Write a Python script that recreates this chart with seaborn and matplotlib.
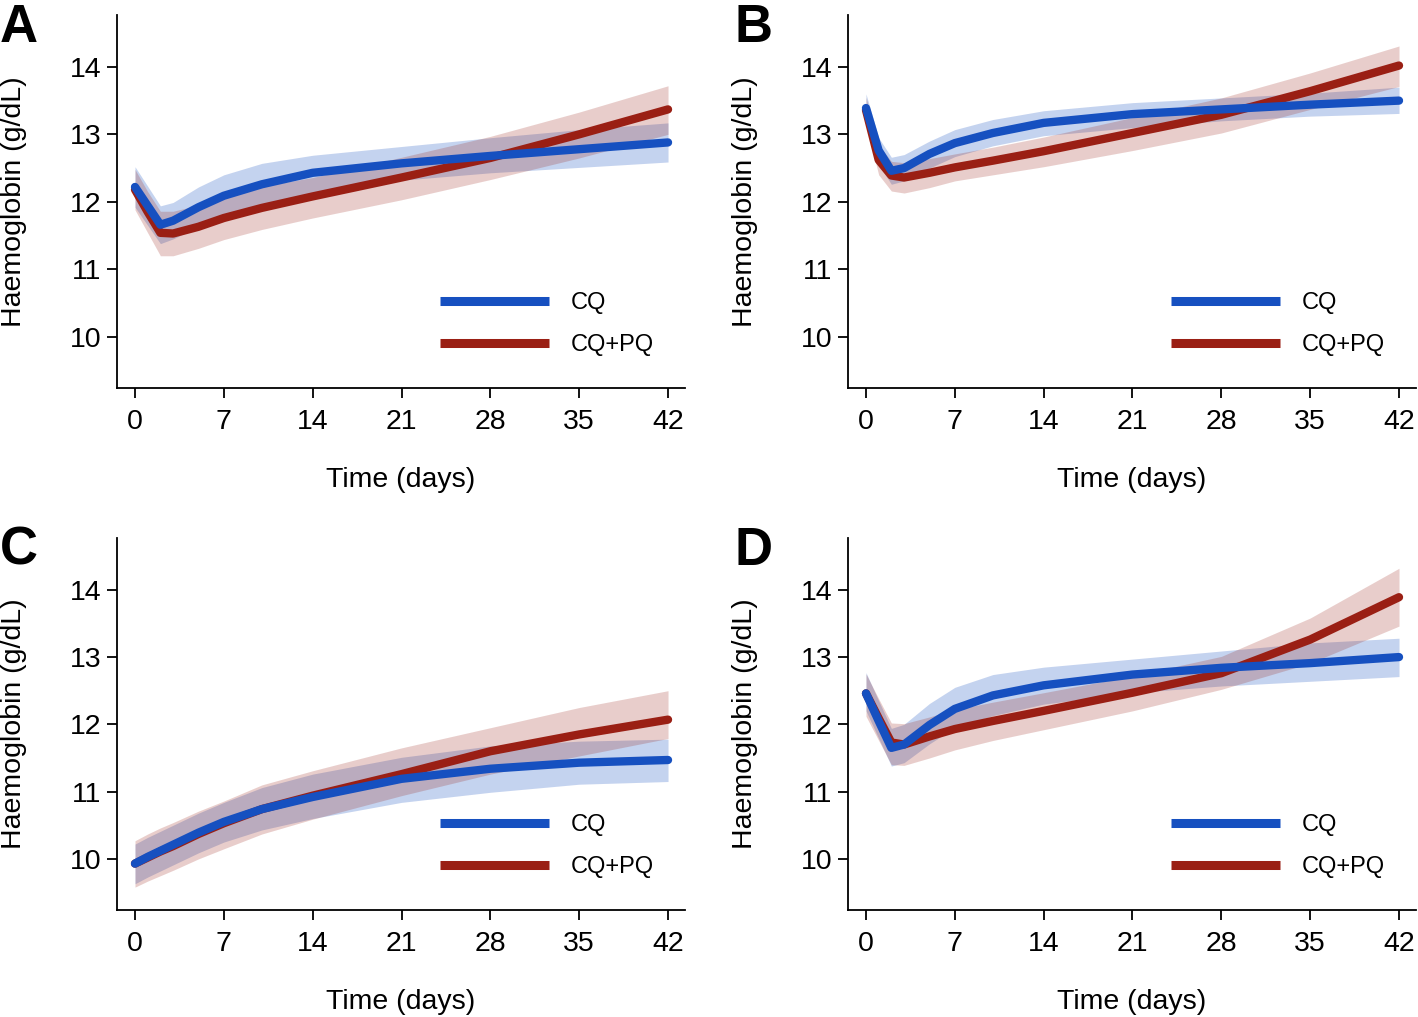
# plot.py — haemoglobin trajectories, CQ vs CQ+PQ, four panels
import numpy as np
import pandas as pd
import seaborn as sns
import matplotlib
matplotlib.use("Agg")
import matplotlib.pyplot as plt

# --- data ---
DAYS = [0, 1, 2, 3, 5, 7, 10, 14, 21, 28, 35, 42]
ARMS = ["CQ", "CQ+PQ"]
PANELS = ["A", "B", "C", "D"]
X_TICKS = [0, 7, 14, 21, 28, 35, 42]
Y_TICKS = [10, 11, 12, 13, 14]

A_CQ    = [12.22, 11.94, 11.66, 11.72, 11.92, 12.09, 12.26, 12.43, 12.57, 12.68, 12.78, 12.88]
A_CQ_LO = [11.92, 11.65, 11.38, 11.45, 11.63, 11.80, 11.96, 12.13, 12.32, 12.43, 12.51, 12.59]
A_CQ_HI = [12.52, 12.23, 11.94, 11.99, 12.22, 12.40, 12.57, 12.69, 12.82, 12.95, 13.07, 13.17]
A_PQ    = [12.18, 11.85, 11.54, 11.53, 11.63, 11.76, 11.91, 12.08, 12.36, 12.65, 13.00, 13.37]
A_PQ_LO = [11.88, 11.54, 11.20, 11.20, 11.31, 11.44, 11.59, 11.76, 12.03, 12.33, 12.65, 13.00]
A_PQ_HI = [12.48, 12.15, 11.86, 11.86, 11.95, 12.08, 12.23, 12.36, 12.66, 12.97, 13.33, 13.72]

B_CQ    = [13.39, 12.76, 12.46, 12.50, 12.71, 12.87, 13.02, 13.17, 13.30, 13.37, 13.44, 13.50]
B_CQ_LO = [13.18, 12.55, 12.26, 12.31, 12.50, 12.67, 12.83, 12.98, 13.10, 13.20, 13.27, 13.31]
B_CQ_HI = [13.60, 12.95, 12.66, 12.70, 12.90, 13.07, 13.22, 13.35, 13.47, 13.54, 13.61, 13.70]
B_PQ    = [13.36, 12.62, 12.39, 12.36, 12.43, 12.51, 12.61, 12.75, 13.02, 13.29, 13.64, 14.02]
B_PQ_LO = [13.15, 12.40, 12.16, 12.13, 12.21, 12.31, 12.40, 12.52, 12.76, 13.02, 13.37, 13.71]
B_PQ_HI = [13.55, 12.84, 12.60, 12.58, 12.64, 12.71, 12.81, 12.96, 13.25, 13.54, 13.91, 14.31]

C_CQ    = [9.93, 10.03, 10.12, 10.21, 10.39, 10.55, 10.74, 10.92, 11.19, 11.34, 11.43, 11.47]
C_CQ_LO = [9.63, 9.73, 9.82, 9.91, 10.09, 10.25, 10.43, 10.60, 10.84, 10.99, 11.11, 11.15]
C_CQ_HI = [10.22, 10.32, 10.41, 10.50, 10.68, 10.84, 11.06, 11.26, 11.51, 11.68, 11.75, 11.78]
C_PQ    = [9.93, 10.02, 10.11, 10.19, 10.37, 10.53, 10.74, 10.94, 11.26, 11.60, 11.85, 12.07]
C_PQ_LO = [9.58, 9.67, 9.75, 9.83, 10.00, 10.15, 10.37, 10.59, 10.94, 11.26, 11.53, 11.79]
C_PQ_HI = [10.27, 10.37, 10.46, 10.54, 10.71, 10.86, 11.10, 11.31, 11.65, 11.95, 12.25, 12.50]

D_CQ    = [12.46, 12.05, 11.65, 11.70, 11.99, 12.23, 12.43, 12.58, 12.74, 12.84, 12.91, 13.00]
D_CQ_LO = [12.20, 11.79, 11.38, 11.43, 11.71, 11.95, 12.13, 12.30, 12.47, 12.57, 12.64, 12.71]
D_CQ_HI = [12.77, 12.35, 11.94, 12.00, 12.31, 12.55, 12.74, 12.85, 12.97, 13.09, 13.21, 13.28]
D_PQ    = [12.46, 12.09, 11.73, 11.70, 11.82, 11.93, 12.05, 12.20, 12.47, 12.76, 13.26, 13.89]
D_PQ_LO = [12.12, 11.76, 11.40, 11.39, 11.50, 11.62, 11.76, 11.92, 12.20, 12.52, 12.91, 13.46]
D_PQ_HI = [12.75, 12.38, 12.02, 12.01, 12.11, 12.22, 12.33, 12.47, 12.72, 13.01, 13.58, 14.32]

SERIES = {
    "A": {"CQ": (A_CQ, A_CQ_LO, A_CQ_HI), "CQ+PQ": (A_PQ, A_PQ_LO, A_PQ_HI)},
    "B": {"CQ": (B_CQ, B_CQ_LO, B_CQ_HI), "CQ+PQ": (B_PQ, B_PQ_LO, B_PQ_HI)},
    "C": {"CQ": (C_CQ, C_CQ_LO, C_CQ_HI), "CQ+PQ": (C_PQ, C_PQ_LO, C_PQ_HI)},
    "D": {"CQ": (D_CQ, D_CQ_LO, D_CQ_HI), "CQ+PQ": (D_PQ, D_PQ_LO, D_PQ_HI)},
}

COLORS = {"CQ": "#1650c0", "CQ+PQ": "#9a1f14"}
BAND_ALPHA = {"CQ": 0.25, "CQ+PQ": 0.22}
FS = 20.5
LEG_FS = 17

sns.set_style("ticks")
plt.rcParams["font.family"] = ["Liberation Sans", "DejaVu Sans"]
for key in ["text.color", "axes.labelcolor", "xtick.color", "ytick.color",
            "axes.edgecolor"]:
    plt.rcParams[key] = "black"
plt.rcParams["axes.linewidth"] = 1.3

fig = plt.figure(figsize=(14.18, 10.17), dpi=100)

# axes boxes in figure fractions: [left, bottom, width, height]
positions = {
    "A": [0.0825, 0.6185, 0.4006, 0.3668],
    "B": [0.598, 0.6185, 0.4006, 0.3668],
    "C": [0.0825, 0.1052, 0.4006, 0.3658],
    "D": [0.598, 0.1052, 0.4006, 0.3658],
}
letter_xy = {"A": (0.0, 0.997), "B": (0.518, 0.997),
             "C": (0.0, 0.483), "D": (0.518, 0.483)}

for panel in PANELS:
    ax = fig.add_axes(positions[panel])
    for arm in ARMS:
        mean, lo, hi = SERIES[panel][arm]
        ax.fill_between(DAYS, lo, hi, color=COLORS[arm], alpha=BAND_ALPHA[arm],
                        linewidth=0)
    for arm in ["CQ+PQ", "CQ"]:
        mean, lo, hi = SERIES[panel][arm]
        df = pd.DataFrame({"day": DAYS, "hb": mean})
        sns.lineplot(data=df, x="day", y="hb", ax=ax, color=COLORS[arm],
                     linewidth=6, label=arm, solid_capstyle="round",
                     solid_joinstyle="round")

    ax.set_xlim(-1.42, 43.34)
    ax.set_ylim(9.24, 14.77)
    ax.set_xticks(X_TICKS)
    ax.set_yticks(Y_TICKS)
    ax.tick_params(axis="both", labelsize=FS, length=7, width=1.3, pad=4)
    ax.tick_params(axis="x", pad=8)
    ax.set_xlabel("Time (days)", fontsize=FS, labelpad=23)
    ax.set_ylabel("Haemoglobin (g/dL)", fontsize=FS, labelpad=31)
    sns.despine(ax=ax)

    handles, labels = ax.get_legend_handles_labels()
    order = [labels.index("CQ"), labels.index("CQ+PQ")]
    leg = ax.legend([handles[i] for i in order], [labels[i] for i in order],
                    loc="lower left", bbox_to_anchor=(0.569, 0.086),
                    frameon=False, fontsize=LEG_FS, handlelength=4.6,
                    handletextpad=0.93, labelspacing=0.85, borderpad=0,
                    borderaxespad=0)
    for line in leg.get_lines():
        line.set_linewidth(6.5)
        line.set_solid_capstyle("butt")

    lx, ly = letter_xy[panel]
    fig.text(lx, ly, panel, fontsize=38, fontweight="bold", ha="left", va="top")

fig.savefig("out.png", dpi=100)
